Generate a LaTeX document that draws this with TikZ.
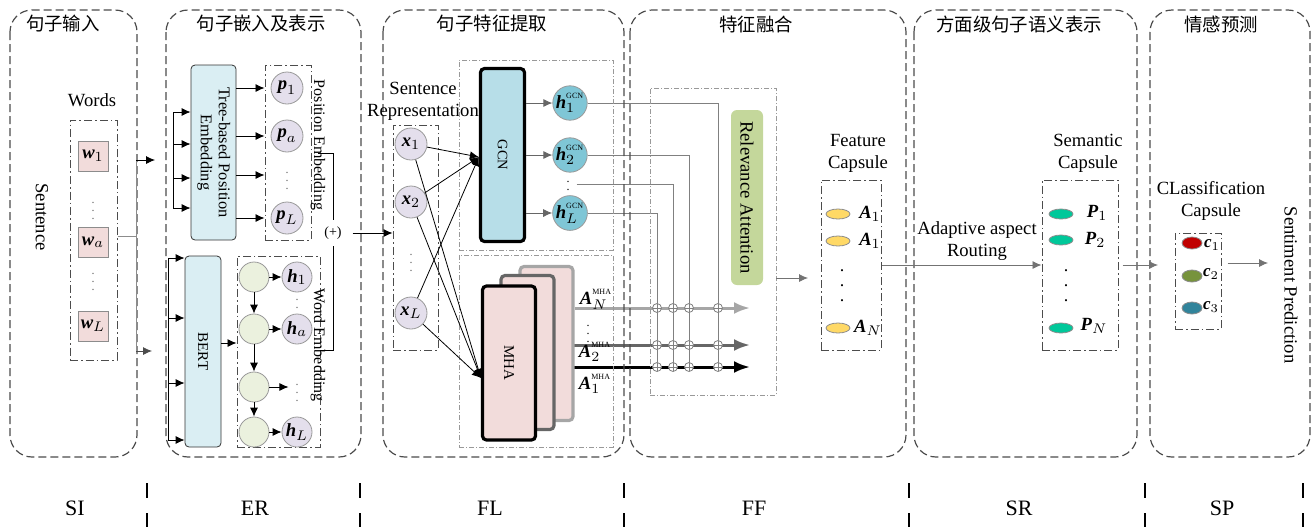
\documentclass[tikz,border=0pt]{standalone}
\usepackage{fontspec}
\setmainfont{Liberation Serif}
\newfontfamily\cjk{Noto Sans CJK SC}
\usetikzlibrary{shapes.geometric,arrows.meta,backgrounds}

\definecolor{wordpink}{HTML}{F2DCDB}
\definecolor{lavender}{HTML}{E4DFEC}
\definecolor{paleblue}{HTML}{DAEEF3}
\definecolor{gcnblue}{HTML}{B7DEE8}
\definecolor{hblue}{HTML}{7FC6D6}
\definecolor{palegreen}{HTML}{EBF1DE}
\definecolor{attgreen}{HTML}{C4D79B}
\definecolor{capyellow}{HTML}{FFD966}
\definecolor{capgreen}{HTML}{00C89A}
\definecolor{clsred}{HTML}{C00000}
\definecolor{clsolive}{HTML}{77933C}
\definecolor{clsteal}{HTML}{31849B}

\newcommand{\vb}[1]{\textbf{\textit{#1}}}
\newcommand{\tsup}[1]{\raisebox{1.2pt}{\fontsize{4}{4}\selectfont #1}}

\begin{document}
\begin{tikzpicture}[x=0.5pt,y=-0.5pt,>={Latex[length=4.5pt,width=4pt]},
	font=\fontsize{9.3}{11}\selectfont,
	panel/.style={draw=black!70,line width=0.6pt,dash pattern=on 4pt off 2pt,rounded corners=11pt},
	grp/.style={draw=black!70,line width=0.5pt,dash pattern=on 4pt off 1.5pt on 0.8pt off 1.5pt},
	zone/.style={draw=black!40,line width=0.4pt,dash pattern=on 2.5pt off 1pt on 0.5pt off 1pt},
	stitle/.style={font=\cjk\fontsize{9.2}{11}\selectfont},
	stage/.style={font=\fontsize{11}{13}\selectfont},
	sidelabel/.style={rotate=-90,font=\fontsize{8}{9}\selectfont},
	wcell/.style={draw=black!45,fill=wordpink,minimum size=15pt,inner sep=0pt},
	neuron/.style={circle,draw=black!40,minimum size=16pt,inner sep=0pt},
	block/.style={draw=black!80,rounded corners=2pt,inner sep=0pt},
	caps/.style={ellipse,draw=black!45,inner sep=0pt,minimum width=12pt,minimum height=5pt},
	oplus/.style={circle,draw=black!50,fill=white,inner sep=0pt,minimum size=4.5pt,
		path picture={\draw[black!50,line width=0.3pt]
			(path picture bounding box.north) -- (path picture bounding box.south)
			(path picture bounding box.west) -- (path picture bounding box.east);}},
	vdot/.style={font=\fontsize{6}{6}\selectfont,text=black!60}]
	\useasboundingbox (0,0) rectangle (1314,527);

	% stage panels
	\draw[panel] (10,10) rectangle (137,457);
	\draw[panel] (166,10) rectangle (361,457);
	\draw[panel] (383,10) rectangle (624,457);
	\draw[panel] (630,10) rectangle (906,457);
	\draw[panel] (914,10) rectangle (1137,457);
	\draw[panel] (1150,10) rectangle (1310,457);
	\node[stitle] (tSI) at (63,24) {句子输入};
	\node[stitle] (tER) at (261,24) {句子嵌入及表示};
	\node[stitle] (tFL) at (492,24) {句子特征提取};
	\node[stitle] (tFF) at (756,24) {特征融合};
	\node[stitle] (tSR) at (1019,24) {方面级句子语义表示};
	\node[stitle] (tSP) at (1221,24) {情感预测};

	% stage names
	\node[stage] (SI) at (75,508) {SI};
	\node[stage] (ER) at (255,508) {ER};
	\node[stage] (FL) at (490,508) {FL};
	\node[stage] (FF) at (754,508) {FF};
	\node[stage] (SR) at (1019,508) {SR};
	\node[stage] (SP) at (1222,508) {SP};
	\foreach \x in {147,360,624,909,1145,1303}
		\draw[line width=0.8pt] (\x,483) -- (\x,498) (\x,513) -- (\x,527);

	% sentence input
	\node[rotate=-90] (sent) at (42,217) {Sentence};
	\node (words) at (92,100) {Words};
	\node[grp,minimum width=23.5pt,minimum height=120pt] (wbox) at (93.5,240) {};
	\node[wcell] (w1) at (93,156) {$\vb{w}_1$};
	\node[vdot] (wd1) at (93,205) {$\vdots$};
	\node[wcell] (wa) at (93,242) {$\vb{w}_a$};
	\node[vdot] (wd2) at (93,276) {$\vdots$};
	\node[wcell] (wL) at (93,326) {$\vb{w}_L$};
	\coordinate (wsplit) at (136,236);
	\coordinate (toTPE) at (155,160);
	\coordinate (toBERT) at (152,351);
	\draw[black!45] (wbox.east |- wsplit) -- (wsplit);
	\draw[black!45] (wsplit |- toTPE) -- (wsplit |- toBERT);
	\draw[->] (wsplit |- toTPE) -- (toTPE);
	\draw[->,black!70] (wsplit |- toBERT) -- (toBERT);

	% embedding
	\node[block,fill=paleblue,minimum width=22.5pt,minimum height=87.5pt,font=\fontsize{8.2}{9}\selectfont] (tpe) at (213.5,152.5)
		{\rotatebox{-90}{\begin{tabular}{@{}c@{}}Tree-based Position\\Embedding\end{tabular}}};
	\draw (173,112) -- (173,208);
	\foreach \y in {112,144,178,208}
		\draw[->] (173,\y) -- (tpe.west |- 0,\y);
	\node[grp,minimum width=23pt,minimum height=87.5pt] (pbox) at (288,152.5) {};
	\node[neuron,fill=lavender] (p1) at (287,88) {$\vb{p}_1$};
	\node[neuron,fill=lavender] (pa) at (287,136) {$\vb{p}_a$};
	\node[vdot] (pd) at (287,175) {$\vdots$};
	\node[neuron,fill=lavender] (pL) at (287,218) {$\vb{p}_L$};
	\foreach \y in {88,136,175,218}
		\draw[->] (tpe.east |- 0,\y) -- (pbox.west |- 0,\y);
	\node[sidelabel] (pemb) at (318,145) {Position Embedding};

	\node[block,fill=paleblue,minimum width=18pt,minimum height=95.5pt,font=\fontsize{7.5}{9}\selectfont] (bert) at (203,351.5)
		{\rotatebox{-90}{BERT}};
	\draw (168,258) -- (168,440);
	\foreach \y in {258,318,383,440}
		\draw[->] (168,\y) -- (bert.west |- 0,\y);
	\node[grp,minimum width=41.5pt,minimum height=95.5pt] (hbox) at (278.5,351.5) {};
	\draw[->] (bert.east |- 0,343) -- (hbox.west |- 0,343);
	\node[neuron,fill=palegreen,minimum size=15pt] (g1) at (254,277) {};
	\node[neuron,fill=palegreen,minimum size=15pt] (g2) at (254,329) {};
	\node[neuron,fill=palegreen,minimum size=15pt] (g3) at (254,387) {};
	\node[neuron,fill=palegreen,minimum size=15pt] (g4) at (254,432) {};
	\node[neuron,fill=lavender,minimum size=15pt] (h1) at (297,277) {$\vb{h}_1$};
	\node[vdot] (hd1) at (297,302) {$\vdots$};
	\node[neuron,fill=lavender,minimum size=15pt] (ha) at (297,329) {$\vb{h}_a$};
	\node[vdot] (hd2) at (297,387) {$\vdots$};
	\node[neuron,fill=lavender,minimum size=15pt] (hL) at (297,432) {$\vb{h}_L$};
	\draw[->] (g1) edge (g2) (g2) edge (g3) (g3) edge (g4)
		(g1) edge (h1) (g2) edge (ha) (g3) edge (hd2) (g4) edge (hL);
	\node[sidelabel] (wemb) at (318,345) {Word Embedding};

	\node[font=\fontsize{7}{8}\selectfont] (fuse) at (333,233) {(+)};
	\coordinate (pout) at (318,153);
	\coordinate (wout) at (320,350);
	\draw (pout) -| (fuse);
	\draw (fuse) |- (wout);

	% feature learning
	\node[align=center] (srep) at (423,101) {Sentence\\Representation};
	\node[grp,minimum width=22.5pt,minimum height=112.5pt] (xbox) at (415.5,237.5) {};
	\draw[->,shorten <=2pt] (fuse) -- (xbox.west |- fuse);
	\node[neuron,fill=lavender] (x1) at (411,144) {$\vb{x}_1$};
	\node[neuron,fill=lavender] (x2) at (411,202) {$\vb{x}_2$};
	\node[vdot] (xd) at (411,257) {$\vdots$};
	\node[neuron,fill=lavender] (xL) at (411,313) {$\vb{x}_L$};

	\node[zone,minimum width=77pt,minimum height=95pt] (gzone) at (536,155) {};
	\node[zone,minimum width=77pt,minimum height=96pt] (mzone) at (536,351) {};
	\node[block,fill=gcnblue,draw=black,line width=1.6pt,minimum width=22pt,minimum height=86.5pt,font=\fontsize{7.2}{9}\selectfont] (gcn) at (502.5,155)
		{\rotatebox{-90}{GCN}};
	\node[block,fill=wordpink,draw=black!35,line width=1.6pt,minimum width=26.5pt,minimum height=77pt] (mha3) at (546.5,343.5) {};
	\node[block,fill=wordpink,draw=black!60,line width=1.6pt,minimum width=26.5pt,minimum height=77pt] (mha2) at (527.5,352.5) {};
	\node[block,fill=wordpink,draw=black,line width=1.6pt,minimum width=26.5pt,minimum height=77pt,font=\fontsize{7.5}{9}\selectfont] (mha1) at (509,363)
		{\rotatebox{-90}{MHA}};
	\coordinate (gcnin) at (gcn.west |- 0,157);
	\coordinate (mhain) at (mha1.west |- 0,378);
	\foreach \n in {x1,x2,xL}
		\draw[->] (\n) edge (gcnin) (\n) edge (mhain);

	\node[neuron,fill=hblue] (hg1) at (570,103) {$\vb{h}_1^{\tsup{GCN}}$};
	\node[neuron,fill=hblue] (hg2) at (570,155) {$\vb{h}_2^{\tsup{GCN}}$};
	\node[vdot,text=black] (hgd) at (568,184) {$\vdots$};
	\node[neuron,fill=hblue] (hgL) at (570,213) {$\vb{h}_L^{\tsup{GCN}}$};
	\foreach \n in {hg1,hg2,hgL}
		\draw[->,black!60] (gcn.east |- \n) -- (\n);

	\node[inner sep=1pt] (aN) at (596,299) {$\vb{A}_N^{\tsup{MHA}}$};
	\node[vdot,text=black] (ad) at (588,328) {$\vdots$};
	\node[inner sep=1pt] (a2) at (595,352) {$\vb{A}_2^{\tsup{MHA}}$};
	\node[inner sep=1pt] (a1) at (595,384) {$\vb{A}_1^{\tsup{MHA}}$};

	% feature fusion
	\node[zone,minimum width=63pt,minimum height=153.5pt] (rzone) at (713,241.5) {};
	\node[fill=attgreen,rounded corners=3pt,minimum width=16pt,minimum height=87.5pt,inner sep=0pt] (ratt) at (747,197.5)
		{\rotatebox{-90}{Relevance Attention}};
	\foreach \c/\x in {1/657,2/673,3/689,4/718}
		\foreach \r/\y in {1/308,2/345,3/367}
			\node[oplus] (o\c\r) at (\x,\y) {};
	\coordinate (eN) at (750,308);
	\coordinate (e2) at (750,345);
	\coordinate (e1) at (750,367);
	\begin{scope}[on background layer]
		\draw[line width=1.5pt,black!35,-{Latex[length=8pt,width=6pt]}] (mha3.east |- eN) -- (eN);
		\draw[line width=1.5pt,black!60,-{Latex[length=8pt,width=6pt]}] (mha2.east |- e2) -- (e2);
		\draw[line width=1.5pt,black,-{Latex[length=8pt,width=6pt]}] (mha1.east |- e1) -- (e1);
		\draw[black!50] (hg1) -| (o43.center);
		\draw[black!50] (hg2) -| (o33.center);
		\draw[black!50] (hgd) -| (o23.center);
		\draw[black!50] (hgL) -| (o13.center);
	\end{scope}

	\coordinate (tofeat) at (808,278);
	\draw[->,black!55] (rzone.east |- tofeat) -- (tofeat);
	\node[align=center] (fcap) at (858,153) {Feature\\Capsule};
	\node[grp,minimum width=30pt,minimum height=85pt] (fbox) at (851,265) {};
	\node[caps,fill=capyellow] (f1) at (838,214) {};
	\node[caps,fill=capyellow] (f2) at (838,241) {};
	\node[font=\fontsize{9}{7.5}\selectfont,align=center] (fd) at (842,286) {.\\.\\.};
	\node[caps,fill=capyellow] (fN) at (838,328) {};
	\node (fl1) at (870,214) {$\vb{A}_1$};
	\node (fl2) at (870,241) {$\vb{A}_1$};
	\node (flN) at (868,328) {$\vb{A}_N$};

	% semantic representation
	\node[align=center] (route) at (977,241) {Adaptive aspect\\Routing};
	\node[align=center] (scap) at (1088,153) {Semantic\\Capsule};
	\node[grp,minimum width=38pt,minimum height=85pt] (sbox) at (1080,265) {};
	\draw[->,black!55] (fbox) -- (sbox);
	\node[caps,fill=capgreen] (s1) at (1061,214) {};
	\node[caps,fill=capgreen] (s2) at (1061,240) {};
	\node[font=\fontsize{9}{7.5}\selectfont,align=center] (sd) at (1066,286) {.\\.\\.};
	\node[caps,fill=capgreen] (sN) at (1061,328) {};
	\node (sl1) at (1097,213) {$\vb{P}_1$};
	\node (sl2) at (1095,240) {$\vb{P}_2$};
	\node (slN) at (1094,326) {$\vb{P}_N$};
	\coordinate (tocls) at (1158,265);
	\draw[->,black!55,shorten <=2pt] (sbox.east |- tocls) -- (tocls);

	% sentiment prediction
	\node[align=center] (ccap) at (1211,201) {CLassification\\Capsule};
	\node[grp,minimum width=23pt,minimum height=48pt] (cbox) at (1198,281) {};
	\node[caps,fill=clsred,minimum width=10pt,minimum height=6pt] (c1) at (1192,243) {};
	\node[caps,fill=clsolive,minimum width=10pt,minimum height=6pt] (c2) at (1192,276) {};
	\node[caps,fill=clsteal,minimum width=10pt,minimum height=6pt] (c3) at (1192,308) {};
	\node[font=\fontsize{8.5}{9}\selectfont] (cl1) at (1212,245) {$\vb{c}_1$};
	\node[font=\fontsize{8.5}{9}\selectfont] (cl2) at (1211,274) {$\vb{c}_2$};
	\node[font=\fontsize{8.5}{9}\selectfont] (cl3) at (1211,307) {$\vb{c}_3$};
	\coordinate (topred) at (1268,263);
	\draw[->,black!55,shorten <=3pt] (cbox.east |- topred) -- (topred);
	\node[rotate=-90] (pred) at (1291,285) {Sentiment Prediction};
\end{tikzpicture}
\end{document}
